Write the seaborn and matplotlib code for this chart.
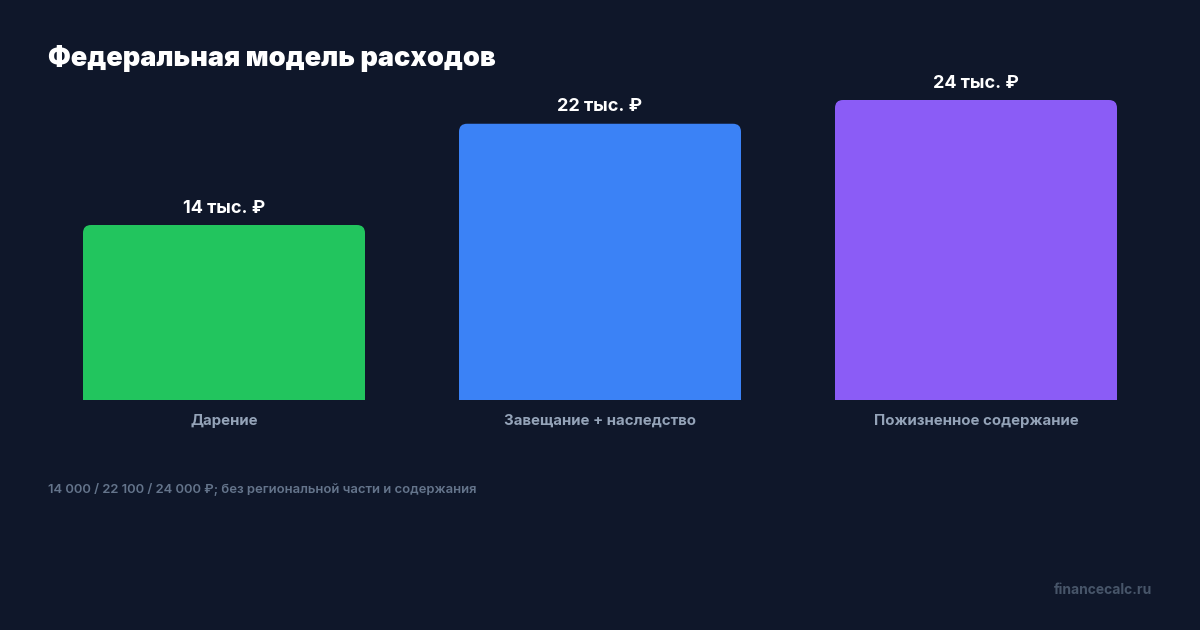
import numpy as np
import matplotlib
matplotlib.use("Agg")
import matplotlib.pyplot as plt
from matplotlib.patches import FancyBboxPatch, Rectangle
import seaborn as sns
import pandas as pd

categories = ["Дарение", "Завещание + наследство", "Пожизненное содержание"]
costs = [14000, 22100, 24000]
bar_colors = ["#22c55e", "#3b82f6", "#8b5cf6"]
title = "Федеральная модель расходов"
footnote = "14 000 / 22 100 / 24 000 ₽; без региональной части и содержания"
watermark = "financecalc.ru"

BG = "#0f172a"

sns.set_theme(style="white")
plt.rcParams["font.family"] = ["Inter", "DejaVu Sans"]

df = pd.DataFrame({"category": categories, "cost": costs})

fig = plt.figure(figsize=(12, 6.3), dpi=100, facecolor=BG)
ax = fig.add_axes([36 / 1200, 230 / 630, 1128 / 1200, 300 / 630])
ax.set_facecolor(BG)

sns.barplot(data=df, x="category", y="cost", hue="category",
            palette=bar_colors, width=0.75, legend=False, ax=ax)
ax.set_xlim(-0.5, 2.5)
ax.set_ylim(0, 24000)

# rounded top corners: replace each bar with a rounded box + square bottom
px_x = 1128 / 3.0          # pixels per x unit
px_y = 300 / 24000         # pixels per y unit
r_px = 8
rx = r_px / px_x
ry = r_px / px_y
for p, col in zip(ax.patches, bar_colors):
    x, w, h = p.get_x(), p.get_width(), p.get_height()
    p.set_visible(False)
    ax.add_patch(FancyBboxPatch((x, 0), w, h,
                                boxstyle=f"round,pad=0,rounding_size={rx}",
                                mutation_aspect=ry / rx,
                                fc=col, ec="none"))
    ax.add_patch(Rectangle((x, 0), w, h - ry, fc=col, ec="none"))
    ax.annotate(f"{h / 1000:.0f} тыс. ₽", (x + w / 2, h),
                xytext=(0, 9), textcoords="offset points",
                ha="center", va="baseline", color="white",
                fontsize=13, fontweight="bold", annotation_clip=False)

sns.despine(ax=ax, left=True, bottom=True)
ax.set_yticks([])
ax.set_xlabel("")
ax.set_ylabel("")
ax.tick_params(axis="x", length=0, pad=10, labelsize=10.8, labelcolor="#94a3b8")
for lbl in ax.get_xticklabels():
    lbl.set_fontweight("bold")

fig.text(48 / 1200, 1 - 58 / 630, title, color="white", fontsize=19.5,
         fontweight=900, va="center", ha="left")
fig.text(48 / 1200, 1 - 490 / 630, footnote, color="#64748b", fontsize=9.4,
         fontweight="semibold", va="center", ha="left")
fig.text(1152 / 1200, 1 - 590 / 630, watermark, color="#475569", fontsize=10,
         fontweight="bold", va="center", ha="right")

fig.savefig("out.png", dpi=100, facecolor=BG)
